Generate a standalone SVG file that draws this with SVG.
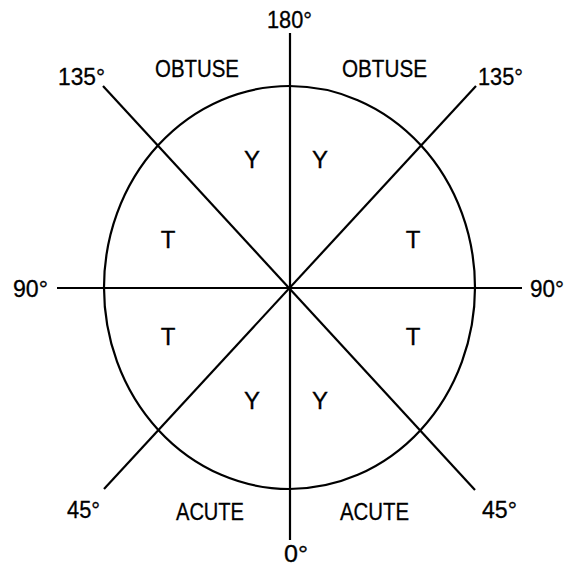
<svg xmlns="http://www.w3.org/2000/svg" width="565" height="567" viewBox="0 0 565 567">
<style>
.t{font-family:"Liberation Sans",Arial,sans-serif;font-size:24px;fill:#000;stroke:#000;stroke-width:0.3}
.m{text-anchor:middle}
.l{stroke:#000;stroke-width:2.2;fill:none}
</style>
<rect width="565" height="567" fill="#fff"/>
<g id="circle"><ellipse class="l" cx="289.5" cy="287.5" rx="185.5" ry="201.5" stroke-width="2.6"/></g>
<g id="connectors">
<line class="l" x1="290" y1="33" x2="290" y2="540"/>
<line class="l" x1="57" y1="288" x2="522" y2="288"/>
<line class="l" x1="103" y1="86" x2="475" y2="490"/>
<line class="l" x1="476" y1="86" x2="104" y2="489"/>
</g>
<g id="labels">
<text class="t" x="267" y="28" textLength="45" lengthAdjust="spacingAndGlyphs">180°</text>
<text class="t" x="58" y="85" textLength="47" lengthAdjust="spacingAndGlyphs">135°</text>
<text class="t" x="478" y="85" textLength="45" lengthAdjust="spacingAndGlyphs">135°</text>
<text class="t" x="155" y="77" textLength="84" lengthAdjust="spacingAndGlyphs">OBTUSE</text>
<text class="t" x="342" y="77" textLength="85" lengthAdjust="spacingAndGlyphs">OBTUSE</text>
<text class="t" x="13" y="297" textLength="35" lengthAdjust="spacingAndGlyphs">90°</text>
<text class="t" x="530" y="297" textLength="34" lengthAdjust="spacingAndGlyphs">90°</text>
<text class="t" x="67" y="518" textLength="33" lengthAdjust="spacingAndGlyphs">45°</text>
<text class="t" x="482" y="518" textLength="35" lengthAdjust="spacingAndGlyphs">45°</text>
<text class="t" x="176" y="520" textLength="68" lengthAdjust="spacingAndGlyphs">ACUTE</text>
<text class="t" x="340" y="520" textLength="69" lengthAdjust="spacingAndGlyphs">ACUTE</text>
<text class="t" x="284" y="562" font-size="22" textLength="24" lengthAdjust="spacingAndGlyphs">0°</text>
<text class="t m" x="252" y="168">Y</text>
<text class="t m" x="320" y="168">Y</text>
<text class="t m" x="168" y="248">T</text>
<text class="t m" x="413" y="248">T</text>
<text class="t m" x="168" y="345">T</text>
<text class="t m" x="413" y="345">T</text>
<text class="t m" x="252" y="409">Y</text>
<text class="t m" x="320" y="409">Y</text>
</g>
</svg>
